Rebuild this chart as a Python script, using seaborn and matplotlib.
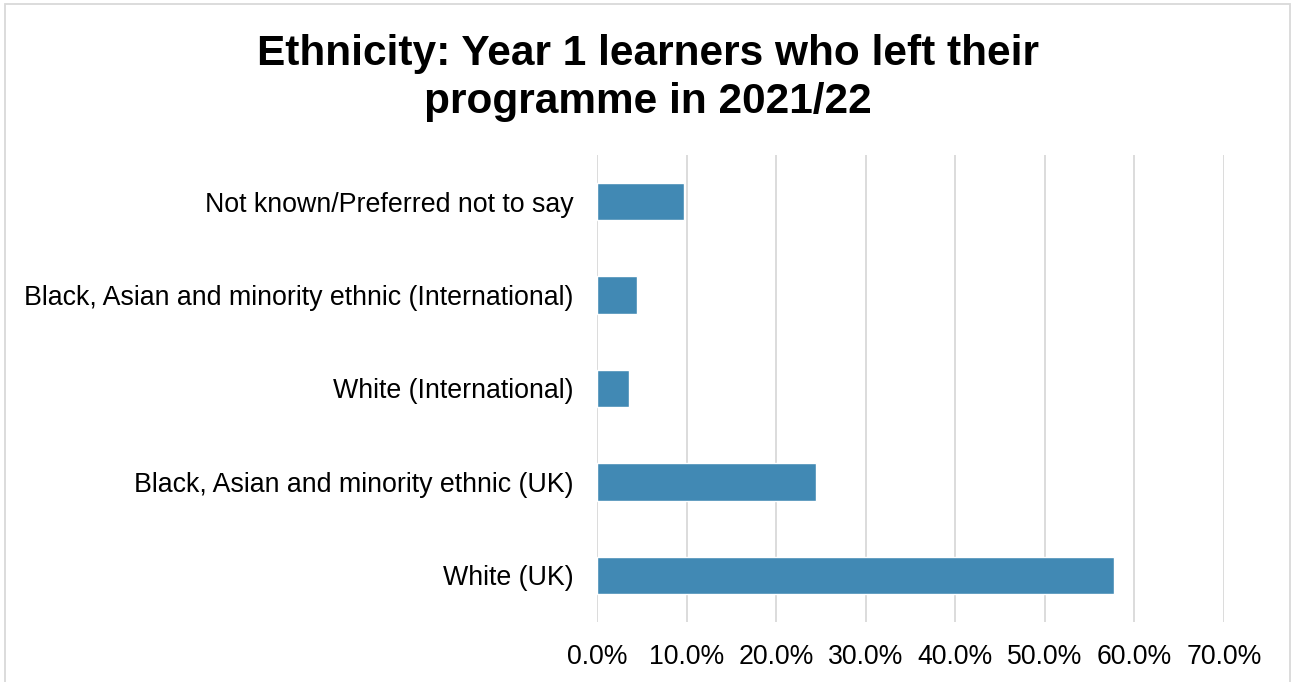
import matplotlib
matplotlib.use("Agg")
import matplotlib.pyplot as plt
from matplotlib.patches import Rectangle
import seaborn as sns
import pandas as pd

categories = [
    "Not known/Preferred not to say",
    "Black, Asian and minority ethnic (International)",
    "White (International)",
    "Black, Asian and minority ethnic (UK)",
    "White (UK)",
]
shares = [9.7, 4.5, 3.6, 24.4, 57.7]
tick_values = [0, 10, 20, 30, 40, 50, 60, 70]
tick_labels = ["0.0%", "10.0%", "20.0%", "30.0%", "40.0%", "50.0%", "60.0%", "70.0%"]
title = "Ethnicity: Year 1 learners who left their\nprogramme in 2021/22"

sns.set_theme(style="white")
plt.rcParams["font.family"] = ["Liberation Sans", "DejaVu Sans"]

W, H, DPI = 1291, 682, 100
fig = plt.figure(figsize=(W / DPI, H / DPI), dpi=DPI)

# axes placed in pixel terms
left, right, top, bottom = 597, 1224, 155, 622
ax = fig.add_axes([left / W, 1 - bottom / H, (right - left) / W, (bottom - top) / H])

df = pd.DataFrame({"category": categories, "share": shares})
sns.barplot(data=df, x="share", y="category", orient="h", color="#4189B4",
            saturation=1, width=0.4, ax=ax, zorder=3)

ax.set_xlim(0, 70)
ax.set_ylim(4.5, -0.5)
ax.set_xticks(tick_values)
ax.set_xticklabels(tick_labels)
ax.xaxis.grid(True, color="#D9D9D9", linewidth=1.3, zorder=0)
ax.yaxis.grid(False)
for s in ax.spines.values():
    s.set_visible(False)
ax.tick_params(axis="x", length=0, pad=16, labelsize=19.2, colors="black")
ax.tick_params(axis="y", length=0, pad=17, labelsize=19.3, colors="black")
ax.set_xlabel("")
ax.set_ylabel("")

fig.text(648 / W, 1 - 78 / H, title, ha="center", va="center",
         fontsize=30.5, fontweight="bold", linespacing=1.24, color="black")

# outer chart frame
fig.patches.append(Rectangle((5 / W, -0.05), 1285 / W, 1 - 3.5 / H + 0.05,
                             transform=fig.transFigure, fill=False,
                             edgecolor="#D9D9D9", linewidth=1.3))

fig.savefig("out.png", dpi=DPI)
